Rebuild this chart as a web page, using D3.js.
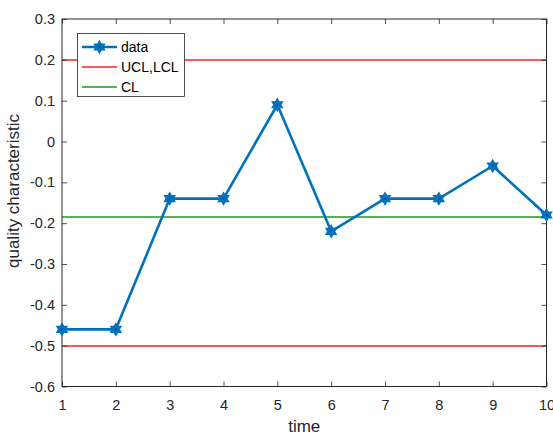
<!DOCTYPE html>
<html><head><meta charset="utf-8">
<script src="https://cdn.jsdelivr.net/npm/d3@7"></script>
<style>body{margin:0;background:#fff}svg{display:block;font-family:"Liberation Sans",Arial,sans-serif}</style>
</head><body>
<script>
const times = [1,2,3,4,5,6,7,8,9,10];
const values = [-0.46,-0.46,-0.14,-0.14,0.09,-0.22,-0.14,-0.14,-0.06,-0.18];
const UCL = 0.2, LCL = -0.5, CL = -0.185;
const xTicks = [1,2,3,4,5,6,7,8,9,10];
const yTicks = [-0.6,-0.5,-0.4,-0.3,-0.2,-0.1,0,0.1,0.2,0.3];
const legendLabels = ["data","UCL,LCL","CL"];

const W=553,H=434;
const L=62,R=546.5,T=19,B=386.5;
const svg=d3.select("body").append("svg").attr("width",W).attr("height",H);
const x=d3.scaleLinear().domain([1,10]).range([L,R]);
const y=d3.scaleLinear().domain([-0.6,0.3]).range([B,T]);
const axCol="#262626";
const snap=v=>Math.round(y(v));

// control lines
const lineCol={ucl:"#ff2020",cl:"#1f991f"};
[UCL,LCL].forEach(v=>svg.append("line").attr("x1",L).attr("x2",R).attr("y1",snap(v)).attr("y2",snap(v)).attr("stroke",lineCol.ucl).attr("stroke-width",1.5));
svg.append("line").attr("x1",L).attr("x2",R).attr("y1",snap(CL)).attr("y2",snap(CL)).attr("stroke",lineCol.cl).attr("stroke-width",1.5);

// axes
const gx=svg.append("g").attr("transform",`translate(0,${B})`).call(d3.axisBottom(x).tickValues(xTicks).tickSize(-5).tickPadding(13).tickFormat(d=>String(d)));
const gxt=svg.append("g").attr("transform",`translate(0,${T})`).call(d3.axisTop(x).tickValues(xTicks).tickSize(-5).tickFormat(""));
const gy=svg.append("g").attr("transform",`translate(${L},0)`).call(d3.axisLeft(y).tickValues(yTicks).tickSize(-5).tickPadding(7).tickFormat(d=>String(+d.toFixed(1))));
const gyr=svg.append("g").attr("transform",`translate(${R},0)`).call(d3.axisRight(y).tickValues(yTicks).tickSize(-5).tickFormat(""));
[gx,gxt,gy,gyr].forEach(g=>{
  g.select(".domain").remove();
  g.selectAll("line").attr("stroke",axCol).attr("stroke-width",0.8);
  g.selectAll("text").attr("fill",axCol).attr("font-size",14.5).attr("font-family","Liberation Sans, Arial, sans-serif");
});
svg.append("rect").attr("x",L).attr("y",T).attr("width",R-L).attr("height",B-T).attr("fill","none").attr("stroke",axCol).attr("stroke-width",1);

// data line
const blue="#0072BD";
svg.append("path").datum(times.map((t,i)=>[t,values[i]]))
  .attr("d",d3.line().x(d=>x(d[0])).y(d=>y(d[1])))
  .attr("fill","none").attr("stroke",blue).attr("stroke-width",2.6).attr("stroke-linejoin","round");

function hexagram(r){
  const pts=[];
  for(let k=0;k<12;k++){
    const a=-Math.PI/2+k*Math.PI/6;
    const rr=k%2===0?r:r/Math.sqrt(3);
    pts.push([rr*Math.cos(a),rr*Math.sin(a)]);
  }
  return "M"+pts.map(p=>p[0].toFixed(2)+","+p[1].toFixed(2)).join("L")+"Z";
}
const mk=svg.append("g");
times.forEach((t,i)=>{
  const g=mk.append("g").attr("transform",`translate(${x(t)},${y(values[i])})`);
  g.append("path").attr("d",hexagram(6)).attr("fill",blue).attr("stroke",blue).attr("stroke-width",1.2).attr("stroke-linejoin","miter");
  g.append("circle").attr("r",1).attr("fill","#003a8c");
});

// labels
svg.append("text").attr("x",(L+R)/2).attr("y",431.5).attr("text-anchor","middle").attr("fill",axCol).attr("font-size",17).text("time");
svg.append("text").attr("transform",`translate(18.5,191) rotate(-90)`).attr("text-anchor","middle").attr("fill",axCol).attr("font-size",17).text("quality characteristic");

// legend
const lg=svg.append("g");
lg.append("rect").attr("x",77.5).attr("y",33.5).attr("width",107).attr("height",63).attr("fill","#fff").attr("stroke",axCol).attr("stroke-width",0.8);
const ly=[47,67,87];
const lx1=82,lx2=117;
lg.append("line").attr("x1",lx1).attr("x2",lx2).attr("y1",ly[0]).attr("y2",ly[0]).attr("stroke",blue).attr("stroke-width",2.6);
const lm=lg.append("g").attr("transform",`translate(${(lx1+lx2)/2},${ly[0]})`);
lm.append("path").attr("d",hexagram(6)).attr("fill",blue).attr("stroke",blue).attr("stroke-width",1.2);
lm.append("circle").attr("r",1).attr("fill","#003a8c");
lg.append("line").attr("x1",lx1).attr("x2",lx2).attr("y1",ly[1]).attr("y2",ly[1]).attr("stroke",lineCol.ucl).attr("stroke-width",1.5);
lg.append("line").attr("x1",lx1).attr("x2",lx2).attr("y1",ly[2]).attr("y2",ly[2]).attr("stroke",lineCol.cl).attr("stroke-width",1.5);
legendLabels.forEach((s,i)=>lg.append("text").attr("x",121).attr("y",ly[i]+5).attr("fill","#000").attr("font-size",14).text(s));
</script>
</body></html>
